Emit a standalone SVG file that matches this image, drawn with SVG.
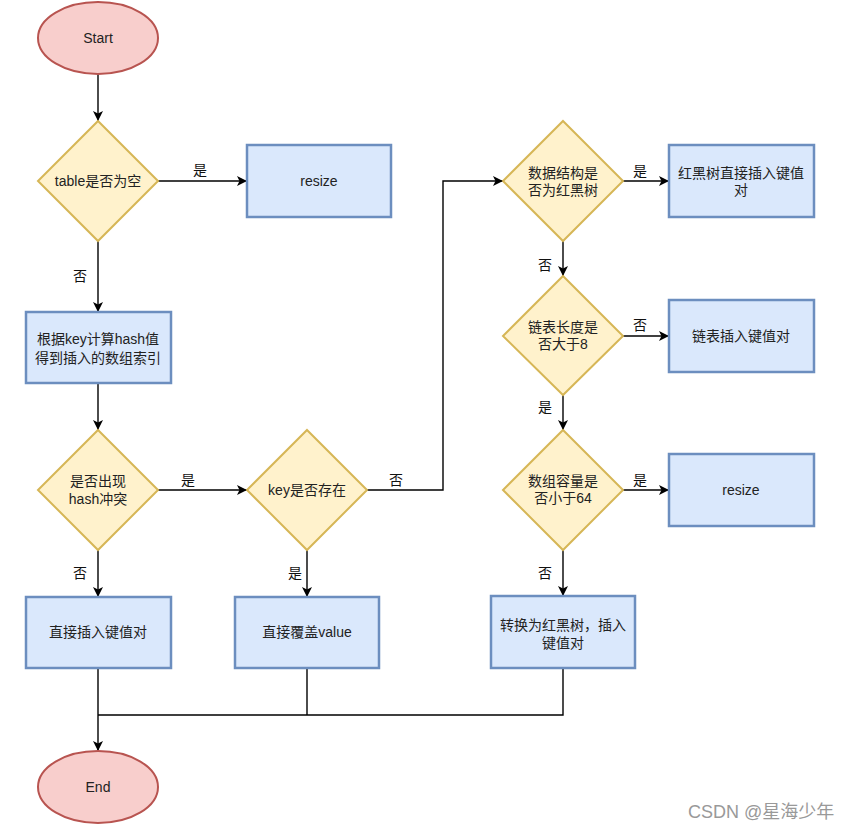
<svg xmlns="http://www.w3.org/2000/svg" width="854" height="830" viewBox="0 0 854 830">
<defs>
<marker id="arr" viewBox="0 0 10 10" refX="10" refY="5" markerWidth="10" markerHeight="10" markerUnits="userSpaceOnUse" orient="auto">
<path d="M0,0 L10,5 L0,10 L2.5,5 Z" fill="#000"/>
</marker>
<style>
text{font-family:"Liberation Sans","Noto Sans CJK SC",sans-serif;font-size:14px;fill:#222;text-anchor:middle}
.term{fill:#f8cecc;stroke:#b85450;stroke-width:2}
.dec{fill:#fff2cc;stroke:#d6b656;stroke-width:2}
.proc{fill:#dae8fc;stroke:#6c8ebf;stroke-width:2.5}
.edge{fill:none;stroke:#000;stroke-width:1.4}
.lbl{fill:#111}
.wm{font-size:18px;fill:#999;text-anchor:start}
</style>
</defs>
<rect width="854" height="830" fill="#fff"/>

<g id="connectors">
<path class="edge" d="M98,74 V121" marker-end="url(#arr)"/>
<path class="edge" d="M158,181 H247" marker-end="url(#arr)"/>
<path class="edge" d="M98,241 V312" marker-end="url(#arr)"/>
<path class="edge" d="M98,383 V430" marker-end="url(#arr)"/>
<path class="edge" d="M158,490 H247" marker-end="url(#arr)"/>
<path class="edge" d="M98,550 V597" marker-end="url(#arr)"/>
<path class="edge" d="M307,550 V597" marker-end="url(#arr)"/>
<path class="edge" d="M367,490 H443 V181 H503" marker-end="url(#arr)"/>
<path class="edge" d="M623,181 H669" marker-end="url(#arr)"/>
<path class="edge" d="M563,241 V276" marker-end="url(#arr)"/>
<path class="edge" d="M623,336 H669" marker-end="url(#arr)"/>
<path class="edge" d="M563,395 V430" marker-end="url(#arr)"/>
<path class="edge" d="M623,490 H669" marker-end="url(#arr)"/>
<path class="edge" d="M563,550 V596" marker-end="url(#arr)"/>
<path class="edge" d="M98,668 V751" marker-end="url(#arr)"/>
<path class="edge" d="M307,668 V715"/>
<path class="edge" d="M563,668 V715 H98"/>
<text class="lbl" x="200" y="175">是</text>
<text class="lbl" x="80" y="281">否</text>
<text class="lbl" x="188" y="485">是</text>
<text class="lbl" x="396" y="485">否</text>
<text class="lbl" x="80" y="578">否</text>
<text class="lbl" x="295" y="578">是</text>
<text class="lbl" x="640" y="176">是</text>
<text class="lbl" x="545" y="270">否</text>
<text class="lbl" x="640" y="330">否</text>
<text class="lbl" x="545" y="412">是</text>
<text class="lbl" x="640" y="485">是</text>
<text class="lbl" x="545" y="578">否</text>
</g>

<g id="start">
<ellipse class="term" cx="98" cy="38" rx="60" ry="36"/>
<text x="98" y="43">Start</text>
</g>
<g id="table-empty">
<path class="dec" d="M98,121 L158,181 L98,241 L38,181 Z"/>
<text x="98" y="186">table是否为空</text>
</g>
<g id="resize1">
<rect class="proc" x="247" y="145" width="144" height="72"/>
<text x="319" y="186">resize</text>
</g>
<g id="hash-index">
<rect class="proc" x="26" y="312" width="145" height="71"/>
<text x="98" y="344">根据key计算hash值</text>
<text x="98" y="363">得到插入的数组索引</text>
</g>
<g id="hash-collision">
<path class="dec" d="M98,430 L158,490 L98,550 L38,490 Z"/>
<text x="98" y="486">是否出现</text>
<text x="98" y="504">hash冲突</text>
</g>
<g id="key-exists">
<path class="dec" d="M307,430 L367,490 L307,550 L247,490 Z"/>
<text x="307" y="495">key是否存在</text>
</g>
<g id="direct-insert">
<rect class="proc" x="26" y="597" width="145" height="71"/>
<text x="98" y="637">直接插入键值对</text>
</g>
<g id="overwrite">
<rect class="proc" x="235" y="597" width="144" height="71"/>
<text x="307" y="637">直接覆盖value</text>
</g>
<g id="is-tree">
<path class="dec" d="M563,121 L623,181 L563,241 L503,181 Z"/>
<text x="563" y="178">数据结构是</text>
<text x="563" y="195">否为红黑树</text>
</g>
<g id="tree-insert">
<rect class="proc" x="669" y="145" width="145" height="72"/>
<text x="741" y="178">红黑树直接插入键值</text>
<text x="741" y="195">对</text>
</g>
<g id="list-len">
<path class="dec" d="M563,276 L623,336 L563,395 L503,336 Z"/>
<text x="563" y="332">链表长度是</text>
<text x="563" y="349">否大于8</text>
</g>
<g id="list-insert">
<rect class="proc" x="669" y="300" width="145" height="72"/>
<text x="741" y="341">链表插入键值对</text>
</g>
<g id="capacity">
<path class="dec" d="M563,430 L623,490 L563,550 L503,490 Z"/>
<text x="563" y="486">数组容量是</text>
<text x="563" y="503">否小于64</text>
</g>
<g id="resize2">
<rect class="proc" x="669" y="454" width="145" height="72"/>
<text x="741" y="495">resize</text>
</g>
<g id="treeify">
<rect class="proc" x="491" y="596" width="144" height="72"/>
<text x="563" y="630">转换为红黑树，插入</text>
<text x="563" y="648">键值对</text>
</g>
<g id="end">
<ellipse class="term" cx="98" cy="787" rx="60" ry="36"/>
<text x="98" y="792">End</text>
</g>
<text class="wm" x="688" y="818">CSDN @星海少年</text>
</svg>
